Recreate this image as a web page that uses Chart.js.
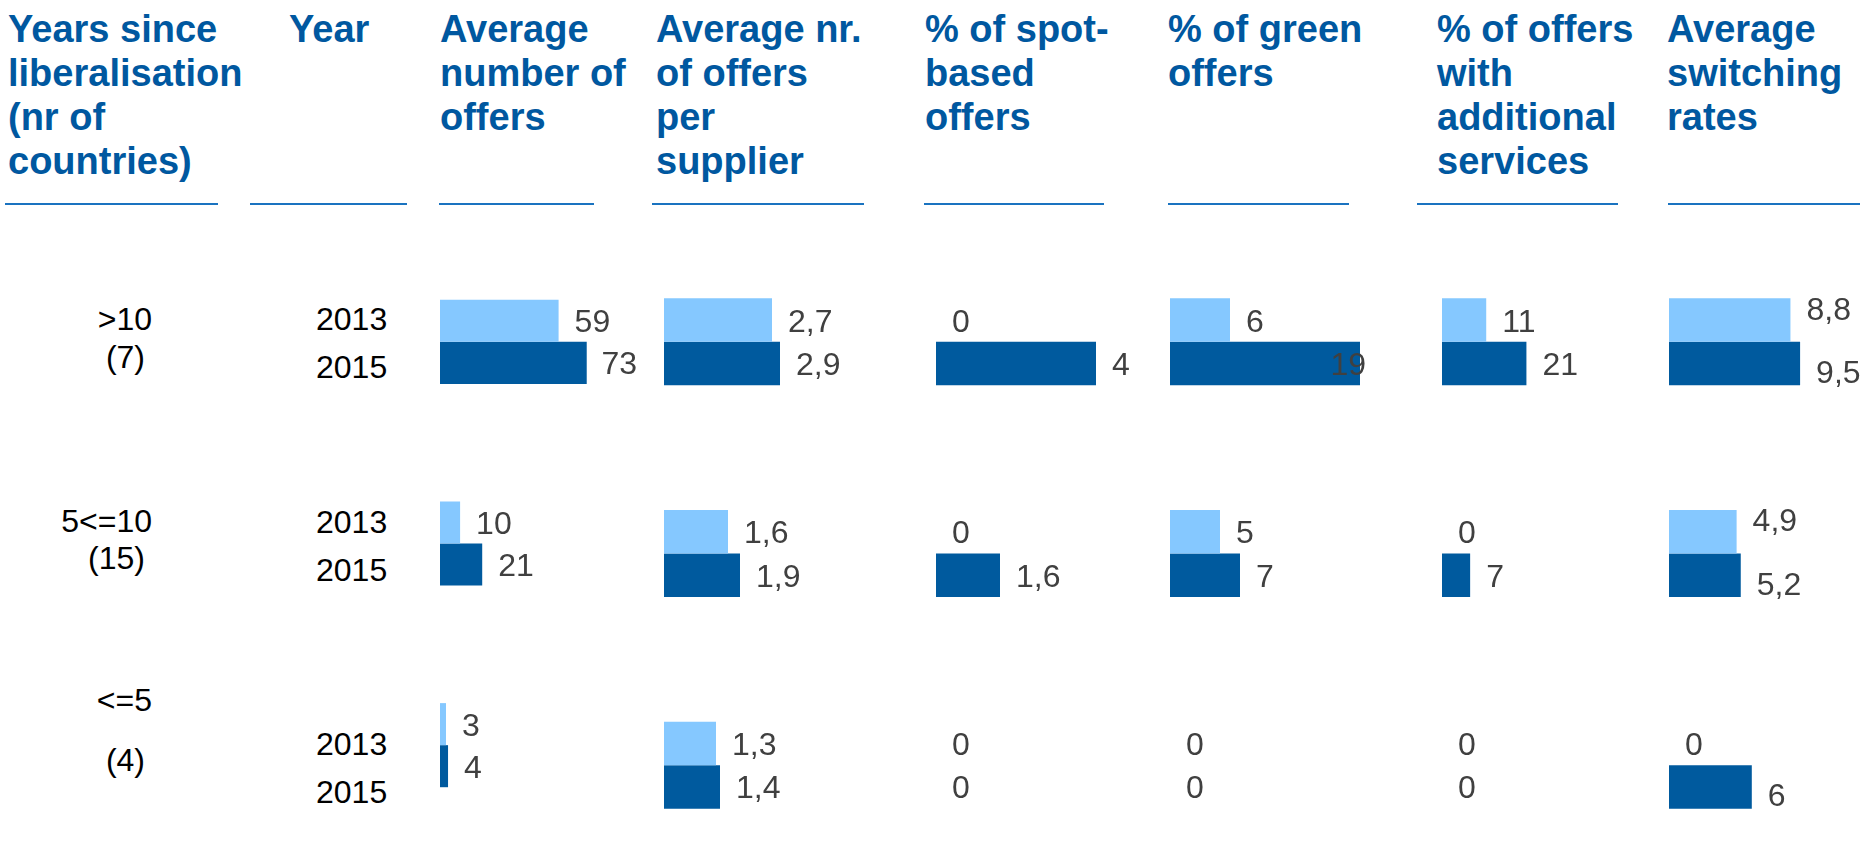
<!DOCTYPE html>
<html>
<head>
<meta charset="utf-8">
<script src="https://cdn.jsdelivr.net/npm/chart.js@4.4.1/dist/chart.umd.min.js"></script>
<style>
    html, body { margin: 0; padding: 0; background: #fff; overflow: hidden; }
    #page { position: relative; width: 1867px; height: 858px; overflow: hidden; font-family: "Liberation Sans", Arial, sans-serif; }
    .title { position: absolute; top: 7px; color: #0058a0; font-weight: bold; font-size: 38px; line-height: 44px; white-space: nowrap; }
    .rule { position: absolute; top: 203px; height: 2px; background: #1a73c0; }
    .lbl { position: absolute; font-size: 32px; line-height: 40px; color: #000; white-space: nowrap; }
    .box { position: absolute; }
</style>
</head>
<body>
<div id="page"></div>
<script>
    "use strict";

    // categories and tick labels
    const groups = ['>10', '5<=10', '<=5'];
    const countryCounts = ['(7)', '(15)', '(4)'];
    const years = ['2013', '2015'];

    const columnTitles = [
        ['Years since', 'liberalisation', '(nr of', 'countries)'],
        ['Year'],
        ['Average', 'number of', 'offers'],
        ['Average nr.', 'of offers', 'per', 'supplier'],
        ['% of spot-', 'based', 'offers'],
        ['% of green', 'offers'],
        ['% of offers', 'with', 'additional', 'services'],
        ['Average', 'switching', 'rates']
    ];

    // series values, per group (>10, 5<=10, <=5)
    const avgOffers2013 = [59, 10, 3];
    const avgOffers2015 = [73, 21, 4];
    const offersPerSupplier2013 = [2.7, 1.6, 1.3];
    const offersPerSupplier2015 = [2.9, 1.9, 1.4];
    const spotBased2013 = [0, 0, 0];
    const spotBased2015 = [4, 1.6, 0];
    const greenOffers2013 = [6, 5, 0];
    const greenOffers2015 = [19, 7, 0];
    const extraServices2013 = [11, 0, 0];
    const extraServices2015 = [21, 7, 0];
    const switching2013 = [8.8, 4.9, 0];
    const switching2015 = [9.5, 5.2, 6];

    const LIGHT = '#85c8ff';
    const DARK = '#005a9e';

    const page = document.getElementById('page');

    function addDiv(cls, css, text) {
        let d = document.createElement('div');
        d.className = cls;
        Object.assign(d.style, css);
        if (text !== undefined) d.textContent = text;
        page.appendChild(d);
        return d;
    }

    // headers + rules
    const titleLeft = [8, 289, 440, 656, 925, 1168, 1437, 1667];
    const rules = [[5, 218], [250, 407], [439, 594], [652, 864], [924, 1104], [1168, 1349], [1417, 1618], [1668, 1860]];
    columnTitles.forEach(function (lines, i) {
        let d = addDiv('title', { left: titleLeft[i] + 'px' });
        lines.forEach(function (line, j) {
            if (j) d.appendChild(document.createElement('br'));
            d.appendChild(document.createTextNode(line));
        });
    });
    rules.forEach(function (r) {
        addDiv('rule', { left: r[0] + 'px', width: (r[1] - r[0]) + 'px' });
    });

    // row labels (centre y of each text line)
    const groupY = [[319, 357], [521, 558], [700, 760]];
    const yearY = [[319, 367], [522, 570], [744, 792]];
    groups.forEach(function (g, i) {
        addDiv('lbl', { right: (1867 - 152) + 'px', top: (groupY[i][0] - 20) + 'px' }, g);
        addDiv('lbl', { right: (1867 - 145) + 'px', top: (groupY[i][1] - 20) + 'px' }, countryCounts[i]);
        years.forEach(function (y, k) {
            addDiv('lbl', { left: '316px', top: (yearY[i][k] - 20) + 'px' }, y);
        });
    });

    // value labels next to the bar ends
    const valueLabels = {
        id: 'valueLabels',
        afterDatasetsDraw(chart, args, opts) {
            const ctx = chart.ctx;
            const dy = opts.dy || [0, 0];
            ctx.save();
            ctx.font = '32px "Liberation Sans", Arial, sans-serif';
            ctx.fillStyle = '#404040';
            ctx.textAlign = 'left';
            ctx.textBaseline = 'alphabetic';
            chart.data.datasets.forEach(function (ds, di) {
                chart.getDatasetMeta(di).data.forEach(function (bar, i) {
                    let v = ds.data[i];
                    let text = String(v).replace('.', ',');
                    let w = ctx.measureText(text).width;
                    let x = Math.min(bar.x + 16, chart.chartArea.right - w - 4);
                    // only labels of real bars get pushed away from the pair
                    let shift = v ? dy[di] : 0;
                    ctx.fillText(text, x, bar.y + 11.5 + shift);
                });
            });
            ctx.restore();
        }
    };

    const panels = [
        { a: avgOffers2013, b: avgOffers2015, left: 440, top: 241, height: 605, width: 201, max: 100, cat: 0.417 },
        { a: offersPerSupplier2013, b: offersPerSupplier2015, left: 664, top: 236, height: 635, width: 200, max: 5, cat: 0.411 },
        { a: spotBased2013, b: spotBased2015, left: 936, top: 236, height: 635, width: 200, max: 5, cat: 0.411 },
        { a: greenOffers2013, b: greenOffers2015, left: 1170, top: 236, height: 635, width: 200, max: 20, cat: 0.411 },
        { a: extraServices2013, b: extraServices2015, left: 1442, top: 236, height: 635, width: 201, max: 50, cat: 0.411 },
        { a: switching2013, b: switching2015, left: 1669, top: 236, height: 635, width: 207, max: 15, cat: 0.411, dy: [-12, 8] }
    ];

    const PAD_RIGHT = 90;

    panels.forEach(function (p) {
        let box = addDiv('box', {
            left: p.left + 'px', top: p.top + 'px',
            width: (p.width + PAD_RIGHT) + 'px', height: p.height + 'px'
        });
        let canvas = document.createElement('canvas');
        box.appendChild(canvas);

        new Chart(canvas.getContext('2d'), {
            type: 'bar',
            data: {
                labels: groups,
                datasets: [
                    { label: years[0], data: p.a, backgroundColor: LIGHT, borderWidth: 0, categoryPercentage: p.cat, barPercentage: 1 },
                    { label: years[1], data: p.b, backgroundColor: DARK, borderWidth: 0, categoryPercentage: p.cat, barPercentage: 1 }
                ]
            },
            options: {
                indexAxis: 'y',
                responsive: true,
                maintainAspectRatio: false,
                animation: false,
                layout: { padding: { left: 0, right: PAD_RIGHT, top: 0, bottom: 0 } },
                plugins: {
                    legend: { display: false },
                    tooltip: { enabled: false },
                    valueLabels: { dy: p.dy || [0, 0] }
                },
                scales: {
                    x: { display: false, min: 0, max: p.max },
                    y: { display: false }
                }
            },
            plugins: [valueLabels]
        });
    });
</script>
</body>
</html>
